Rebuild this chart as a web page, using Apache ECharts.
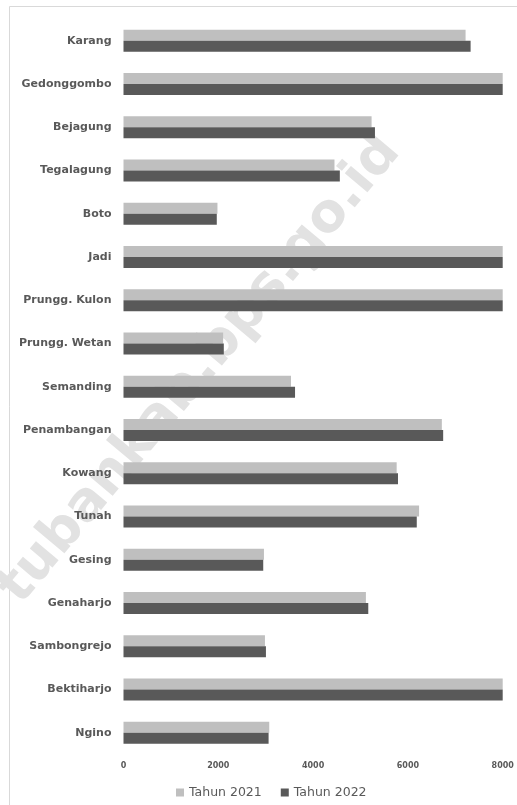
<!DOCTYPE html>
<html>
<head>
<meta charset="utf-8">
<script src="https://cdn.jsdelivr.net/npm/echarts@6/dist/echarts.min.js"></script>
<style>html,body{margin:0;padding:0;background:#fff;}#c{width:517px;height:805px;}</style>
</head>
<body>
<div id="c"></div>
<script>
var categories = ["Karang","Gedonggombo","Bejagung","Tegalagung","Boto","Jadi","Prungg. Kulon","Prungg. Wetan","Semanding","Penambangan","Kowang","Tunah","Gesing","Genaharjo","Sambongrejo","Bektiharjo","Ngino"];
var tahun2021 = [7217, 8000, 5234, 4451, 1982, 8000, 8000, 2102, 3534, 6716, 5763, 6236, 2963, 5114, 2984, 8000, 3075];
var tahun2022 = [7323, 8000, 5305, 4564, 1968, 8000, 8000, 2116, 3619, 6744, 5791, 6187, 2948, 5164, 3005, 8000, 3061];
var xTicks = [0, 2000, 4000, 6000, 8000];
var seriesNames = ["Tahun 2021", "Tahun 2022"];

var chart = echarts.init(document.getElementById('c'), null, {renderer: 'canvas'});
chart.setOption({
  backgroundColor: '#ffffff',
  animation: false,
  graphic: [
    {type: 'rect', z: -100, silent: true, shape: {x: 9.5, y: 6.5, width: 520, height: 820}, style: {fill: 'none', stroke: '#d9d9d9', lineWidth: 1}},
    {type: 'text', z: -100, silent: true, x: 200, y: 370, rotation: 50 * Math.PI / 180,
     style: {text: 'tubankab.bps.go.id', font: 'bold 54px "DejaVu Sans"', fill: '#e2e2e2', align: 'center', verticalAlign: 'middle'}}
  ],
  grid: {left: 123.5, right: 14.3, top: 19.1, bottom: 50.7, containLabel: false},
  legend: {
    data: seriesNames, left: 171, top: 781, itemWidth: 8, itemHeight: 8, itemGap: 19,
    icon: 'rect',
    textStyle: {fontFamily: 'DejaVu Sans', fontSize: 12.5, color: '#595959'}
  },
  xAxis: {
    type: 'value', min: xTicks[0], max: xTicks[xTicks.length - 1], interval: 2000,
    axisLine: {show: false}, axisTick: {show: false}, splitLine: {show: false},
    axisLabel: {fontFamily: 'DejaVu Sans', fontWeight: 'bold', fontSize: 8, color: '#595959', margin: 8,
      formatter: function (v) { return String(v); }}
  },
  yAxis: {
    type: 'category', data: categories, inverse: true,
    axisLine: {show: false}, axisTick: {show: false}, splitLine: {show: false},
    axisLabel: {fontFamily: 'DejaVu Sans', fontWeight: 'bold', fontSize: 11, color: '#595959', margin: 12}
  },
  series: [
    {name: seriesNames[0], type: 'bar', data: tahun2021, barWidth: 11, barGap: '0%', z: 10,
     itemStyle: {color: '#bfbfbf'}},
    {name: seriesNames[1], type: 'bar', data: tahun2022, barWidth: 11, barGap: '0%', z: 10,
     itemStyle: {color: '#595959'}}
  ]
});
</script>
</body>
</html>
